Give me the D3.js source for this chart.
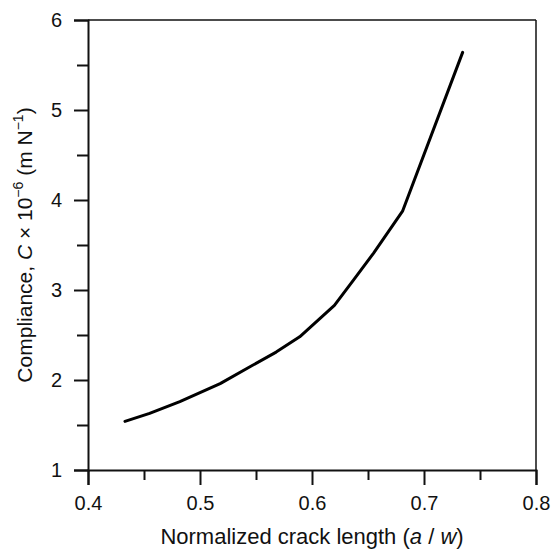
<!DOCTYPE html>
<html>
<head>
<meta charset="utf-8">
<script src="https://cdn.jsdelivr.net/npm/d3@7"></script>
<style>
  body { margin: 0; background: #fff; }
  text { font-family: "Liberation Sans", Arial, sans-serif; fill: #111; }
</style>
</head>
<body>
<div id="chart"></div>
<script>
// data
const crackLength = [0.433, 0.455, 0.482, 0.518, 0.545, 0.568, 0.589, 0.620, 0.637, 0.655, 0.681, 0.7345];
const compliance  = [1.54, 1.63, 1.76, 1.96, 2.15, 2.31, 2.48, 2.83, 3.11, 3.41, 3.88, 5.64];
const xTicks = [0.4, 0.5, 0.6, 0.7, 0.8];
const yTicks = [1, 2, 3, 4, 5, 6];

const W = 551, H = 550;
const margin = { top: 20, right: 15, bottom: 80, left: 88 },
    width = W - margin.left - margin.right,
    height = H - margin.top - margin.bottom;

const svg = d3.select("#chart").append("svg")
    .attr("width", W)
    .attr("height", H);

const g = svg.append("g")
    .attr("transform", "translate(" + margin.left + "," + margin.top + ")");

const x = d3.scaleLinear().domain([0.4, 0.8]).range([0, width]);
const y = d3.scaleLinear().domain([1, 6]).range([height, 0]);

// minor ticks (halfway)
const xMinor = d3.range(0.45, 0.8, 0.1);
const yMinor = d3.range(1.5, 6, 1);

// frame top/right
g.append("line").attr("x1", 0).attr("x2", width).attr("y1", 0).attr("y2", 0)
    .attr("stroke", "#111").attr("stroke-width", 1.5);
g.append("line").attr("x1", width).attr("x2", width).attr("y1", 0).attr("y2", height)
    .attr("stroke", "#111").attr("stroke-width", 1.5);

// x axis
g.append("g")
    .attr("transform", "translate(0," + height + ")")
    .call(d3.axisBottom(x).tickValues(xTicks).tickSize(15).tickPadding(11).tickFormat(d3.format(".1f")));
g.append("g")
    .attr("transform", "translate(0," + height + ")")
    .call(d3.axisBottom(x).tickValues(xMinor).tickSize(10).tickFormat(""))
    .select(".domain").remove();

// y axis
g.append("g")
    .call(d3.axisLeft(y).tickValues(yTicks).tickSize(14).tickPadding(12).tickFormat(d3.format("d")));
g.append("g")
    .call(d3.axisLeft(y).tickValues(yMinor).tickSize(11).tickFormat(""))
    .select(".domain").remove();

g.selectAll(".domain").attr("stroke", "#111").attr("stroke-width", 2);
g.selectAll(".tick line").attr("stroke", "#111").attr("stroke-width", 2);
g.selectAll(".tick text").style("font-size", "20px").attr("fill", "#111");

// the curve
const pts = crackLength.map((d, i) => [d, compliance[i]]);
g.append("path")
    .datum(pts)
    .attr("fill", "none")
    .attr("stroke", "#000")
    .attr("stroke-width", 3)
    .attr("stroke-linejoin", "round")
    .attr("stroke-linecap", "round")
    .attr("d", d3.line().x(d => x(d[0])).y(d => y(d[1])));

// axis titles
const xt = svg.append("text")
    .attr("x", margin.left + width / 2)
    .attr("y", 544)
    .attr("text-anchor", "middle")
    .style("font-size", "22px");
xt.append("tspan").text("Normalized crack length (");
xt.append("tspan").style("font-style", "italic").text("a");
xt.append("tspan").text(" / ");
xt.append("tspan").style("font-style", "italic").text("w");
xt.append("tspan").text(")");

const yt = svg.append("text")
    .attr("transform", "translate(32," + (margin.top + height / 2) + ") rotate(-90)")
    .attr("text-anchor", "middle")
    .style("font-size", "21px");
yt.append("tspan").text("Compliance, ");
yt.append("tspan").style("font-style", "italic").text("C");
yt.append("tspan").text(" \u00d7 10");
yt.append("tspan").attr("dy", -9).style("font-size", "14px").text("\u22126");
yt.append("tspan").attr("dy", 9).text(" (m N");
yt.append("tspan").attr("dy", -9).style("font-size", "14px").text("\u22121");
yt.append("tspan").attr("dy", 9).text(")");
</script>
</body>
</html>
